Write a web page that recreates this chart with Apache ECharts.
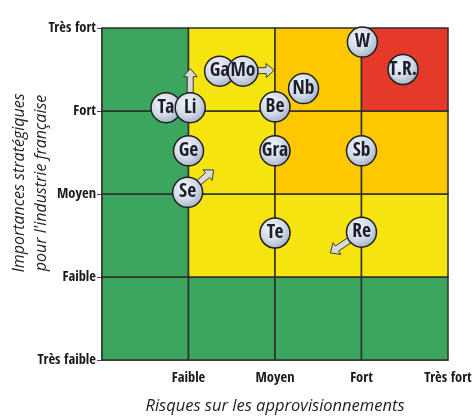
<!DOCTYPE html>
<html>
<head>
<meta charset="utf-8">
<script src="https://cdn.jsdelivr.net/npm/echarts@6/dist/echarts.min.js"></script>
<style>
  html, body { margin: 0; padding: 0; background: #fff; }
  #chart { width: 473px; height: 418px; }
</style>
</head>
<body>
<div id="chart"></div>
<script>
// niveaux sur les axes
const riskLabels = ['', 'Faible', 'Moyen', 'Fort', 'Très fort']
const importanceLabels = ['Très faible', 'Faible', 'Moyen', 'Fort', 'Très fort']

// couleur de chaque case : [colonne, ligne, niveau]
const cellLevels = [
  [0, 0, 0], [1, 0, 0], [2, 0, 0], [3, 0, 0],
  [0, 1, 0], [1, 1, 1], [2, 1, 1], [3, 1, 1],
  [0, 2, 0], [1, 2, 1], [2, 2, 2], [3, 2, 2],
  [0, 3, 0], [1, 3, 1], [2, 3, 2], [3, 3, 3]
]
const levelColors = ['#3ca65e', '#f5e40f', '#fdc800', '#e5392a']

// métaux : [risque, importance, symbole]
const metals = [
  [3.01, 3.83, 'W'],
  [3.48, 3.50, 'T.R.'],
  [1.36, 3.48, 'Ga'],
  [1.63, 3.48, 'Mo'],
  [2.33, 3.27, 'Nb'],
  [0.74, 3.04, 'Ta'],
  [1.02, 3.04, 'Li'],
  [2.00, 3.05, 'Be'],
  [1.00, 2.52, 'Ge'],
  [2.00, 2.52, 'Gra'],
  [3.00, 2.52, 'Sb'],
  [0.99, 2.02, 'Se'],
  [2.00, 1.53, 'Te'],
  [3.00, 1.54, 'Re']
]

// tendances : [x départ, y départ, x pointe, y pointe]
const trends = [
  [1.02, 3.04, 1.02, 3.51],
  [1.63, 3.48, 1.99, 3.49],
  [0.99, 2.02, 1.29, 2.29],
  [3.00, 1.54, 2.64, 1.29]
]

const condensed = '"Open Sans Condensed", "Roboto Condensed", sans-serif'

const chart = echarts.init(document.getElementById('chart'))

const renderCell = (params, api) => {
  const col = api.value(0)
  const row = api.value(1)
  const p0 = api.coord([col, row + 1])
  const p1 = api.coord([col + 1, row])
  return {
    type: 'rect',
    shape: { x: p0[0], y: p0[1], width: p1[0] - p0[0], height: p1[1] - p0[1] },
    style: {
      fill: levelColors[api.value(2)],
      stroke: '#2e2e2e',
      lineWidth: 1.5
    }
  }
}

const renderArrow = (params, api) => {
  const a = api.coord([api.value(0), api.value(1)])
  const b = api.coord([api.value(2), api.value(3)])
  const dx = b[0] - a[0]
  const dy = b[1] - a[1]
  const len = Math.sqrt(dx * dx + dy * dy)
  const ux = dx / len, uy = dy / len
  const nx = -uy, ny = ux
  const shaft = 3, head = 7, headLen = 8
  const hb = [b[0] - ux * headLen, b[1] - uy * headLen]
  const pts = [
    [a[0] + nx * shaft, a[1] + ny * shaft],
    [hb[0] + nx * shaft, hb[1] + ny * shaft],
    [hb[0] + nx * head, hb[1] + ny * head],
    b,
    [hb[0] - nx * head, hb[1] - ny * head],
    [hb[0] - nx * shaft, hb[1] - ny * shaft],
    [a[0] - nx * shaft, a[1] - ny * shaft]
  ]
  return {
    type: 'polygon',
    shape: { points: pts },
    style: { fill: '#d9d9d6', stroke: '#3a3a3a', lineWidth: 1 }
  }
}

const option = {
  animation: false,
  grid: { left: 102, right: 25, top: 28, bottom: 58, containLabel: false, outerBoundsMode: 'none' },
  graphic: [
    {
      type: 'text',
      x: 30,
      y: 183,
      rotation: Math.PI / 2,
      style: {
        text: 'Importances stratégiques\npour l\'industrie française',
        align: 'center',
        verticalAlign: 'middle',
        font: 'italic 16px "Open Sans", sans-serif',
        lineHeight: 22,
        fill: '#222'
      }
    }
  ],
  xAxis: {
    type: 'value',
    min: 0,
    max: 4,
    interval: 1,
    name: 'Risques sur les approvisionnements',
    nameLocation: 'middle',
    nameGap: 38,
    nameTextStyle: {
      fontFamily: '"Open Sans", sans-serif',
      fontStyle: 'italic',
      fontSize: 16.5,
      color: '#222',
      verticalAlign: 'top'
    },
    axisLine: { show: true, lineStyle: { color: '#444', width: 1.5 } },
    axisTick: { show: false },
    splitLine: { show: false },
    axisLabel: {
      margin: 11,
      fontFamily: condensed,
      fontWeight: 'bold',
      fontSize: 14.5,
      color: '#1a1a1a',
      formatter: (v) => riskLabels[v] || ''
    }
  },
  yAxis: {
    type: 'value',
    min: 0,
    max: 4,
    interval: 1,
    axisLine: { show: true, lineStyle: { color: '#444', width: 1.5 } },
    axisTick: { show: true, length: 5, lineStyle: { color: '#444' } },
    splitLine: { show: false },
    axisLabel: {
      margin: 6,
      fontFamily: condensed,
      fontWeight: 'bold',
      fontSize: 14.5,
      color: '#1a1a1a',
      formatter: (v) => importanceLabels[v] || ''
    }
  },
  series: [
    {
      type: 'custom',
      renderItem: renderCell,
      data: cellLevels,
      z: 1,
      silent: true
    },
    {
      type: 'custom',
      renderItem: renderArrow,
      data: trends,
      encode: { x: [0, 2], y: [1, 3] },
      z: 3,
      silent: true
    },
    {
      type: 'scatter',
      data: metals,
      symbolSize: 30,
      z: 4,
      itemStyle: {
        color: new echarts.graphic.RadialGradient(0.4, 0.35, 0.7, [
          { offset: 0, color: '#f2f5fa' },
          { offset: 0.55, color: '#d3dbe8' },
          { offset: 1, color: '#9eabc0' }
        ]),
        borderColor: '#1f1f1f',
        borderWidth: 1.5,
        opacity: 1
      },
      label: {
        show: true,
        position: 'inside',
        fontFamily: condensed,
        fontWeight: 'bold',
        fontSize: 19.5,
        color: '#1c1e2a',
        formatter: (p) => p.value[2]
      }
    }
  ]
}

chart.setOption(option)
</script>
</body>
</html>
